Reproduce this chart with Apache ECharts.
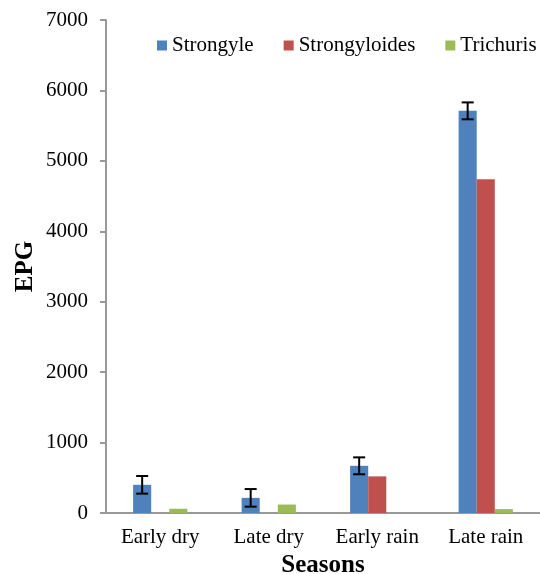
<!DOCTYPE html>
<html>
<head>
<meta charset="utf-8">
<script src="https://cdn.jsdelivr.net/npm/echarts@6/dist/echarts.min.js"></script>
<style>html,body{margin:0;padding:0;background:#fff}#c{width:540px;height:574px}</style>
</head>
<body>
<div id="c"></div>
<script>
var categories = ['Early dry', 'Late dry', 'Early rain', 'Late rain'];
var strongyle = [400, 215, 670, 5710];
var strongyleErr = [125, 125, 120, 120];
var strongyloides = [0, 0, 520, 4740];
var trichuris = [60, 120, 0, 55];
var seriesNames = ['Strongyle', 'Strongyloides', 'Trichuris'];
var yTicks = { min: 0, max: 7000, interval: 1000 };

var FONT = '"Liberation Serif", "Times New Roman", serif';
var chart = echarts.init(document.getElementById('c'));

var errData = categories.map(function (c, i) {
  return [i, strongyle[i] - strongyleErr[i], strongyle[i] + strongyleErr[i]];
});

chart.setOption({
  animation: false,
  textStyle: { fontFamily: FONT },
  color: ['#4F81BD', '#C0504D', '#9BBB59'],
  grid: { left: 106, right: 0, top: 20, bottom: 61, containLabel: false, outerBoundsMode: 'none' },
  legend: {
    data: seriesNames,
    left: 157,
    top: 35,
    width: 420,
    padding: 0,
    itemWidth: 10,
    itemHeight: 10,
    itemGap: 30,
    icon: 'rect',
    textStyle: { fontFamily: FONT, fontSize: 21, color: '#000' }
  },
  xAxis: {
    type: 'category',
    data: categories,
    name: 'Seasons',
    nameLocation: 'middle',
    nameGap: 37,
    nameTextStyle: { fontFamily: FONT, fontSize: 25, fontWeight: 'bold', color: '#000' },
    axisLine: { lineStyle: { color: '#999', width: 2 } },
    axisTick: { show: false },
    axisLabel: { fontFamily: FONT, fontSize: 21, color: '#000', margin: 14, interval: 0 }
  },
  yAxis: {
    type: 'value',
    min: yTicks.min,
    max: yTicks.max,
    interval: yTicks.interval,
    name: 'EPG',
    nameLocation: 'middle',
    nameGap: 68,
    nameMoveOverlap: false,
    nameRotate: 90,
    nameTextStyle: { fontFamily: FONT, fontSize: 25, fontWeight: 'bold', color: '#000' },
    axisLine: { show: true, lineStyle: { color: '#999', width: 2 } },
    axisTick: { show: true, length: 6, lineStyle: { color: '#999', width: 2 } },
    axisLabel: { fontFamily: FONT, fontSize: 21, color: '#000', margin: 18, formatter: function (v) { return String(v); } },
    splitLine: { show: false }
  },
  series: [
    { name: seriesNames[0], type: 'bar', data: strongyle, barGap: '0%', barCategoryGap: '50%' },
    { name: seriesNames[1], type: 'bar', data: strongyloides, barGap: '0%', barCategoryGap: '50%' },
    { name: seriesNames[2], type: 'bar', data: trichuris, barGap: '0%', barCategoryGap: '50%' },
    {
      type: 'custom',
      name: 'err',
      data: errData,
      z: 10,
      renderItem: function (params, api) {
        var idx = api.value(0);
        var lo = api.coord([idx, api.value(1)]);
        var hi = api.coord([idx, api.value(2)]);
        var band = api.size([1, 0])[0];
        var bw = band * 0.5 / 3;
        var x = lo[0] - bw;
        var hw = 6;
        var st = { stroke: '#000', lineWidth: 2 };
        return {
          type: 'group',
          children: [
            { type: 'line', shape: { x1: x, y1: lo[1], x2: x, y2: hi[1] }, style: st },
            { type: 'line', shape: { x1: x - hw, y1: lo[1], x2: x + hw, y2: lo[1] }, style: st },
            { type: 'line', shape: { x1: x - hw, y1: hi[1], x2: x + hw, y2: hi[1] }, style: st }
          ]
        };
      }
    }
  ]
});
</script>
</body>
</html>
